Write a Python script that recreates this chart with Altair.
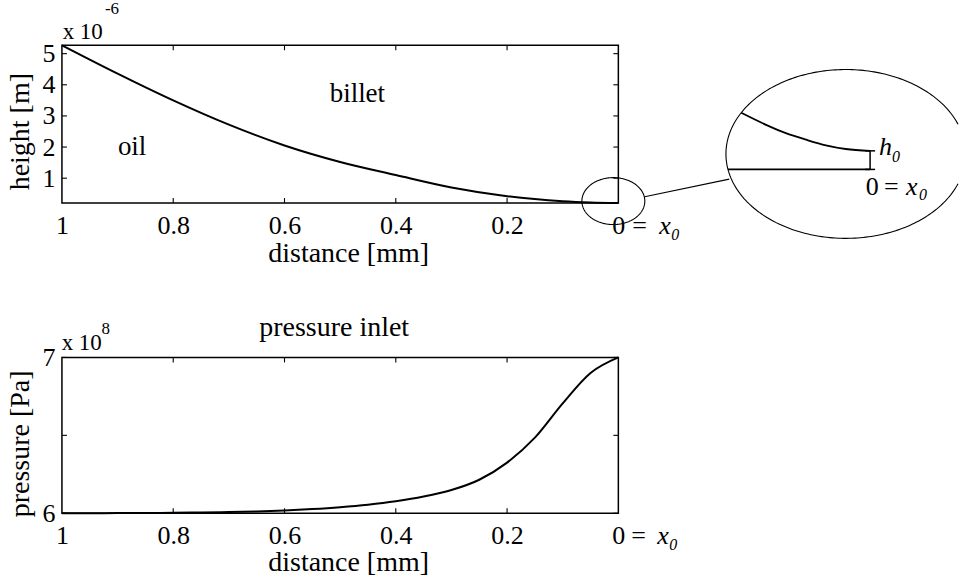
import altair as alt
import numpy as np
import pandas as pd

# oil film height along the inlet zone (x 1e-6 m)
dist_h = [1.0, 0.9, 0.8, 0.7, 0.6, 0.5, 0.4, 0.3, 0.2, 0.1, 0.05, 0.0]
height = [5.27, 4.36, 3.50, 2.72, 2.05, 1.52, 1.10, 0.70, 0.42, 0.26, 0.22, 0.20]

# pressure build-up in the inlet (x 1e8 Pa)
dist_p = [1.0, 0.95, 0.9, 0.85, 0.8, 0.75, 0.7, 0.65, 0.6, 0.55, 0.5, 0.45, 0.4, 0.35, 0.3, 0.25, 0.2,
          0.15, 0.1, 0.05, 0.0]
pressure = [6.0, 6.0005, 6.001, 6.002, 6.003, 6.005, 6.008, 6.012, 6.018, 6.027, 6.039, 6.055, 6.077,
            6.107, 6.149, 6.215, 6.325, 6.485, 6.705, 6.90, 7.0]

# magnified film profile close to the outlet
zoom_d = [0.28, 0.226, 0.183, 0.139, 0.096, 0.053, 0.0]
zoom_h = [0.61, 0.48, 0.39, 0.32, 0.26, 0.22, 0.20]
h0 = 0.20

x_ticks = [0.0, 0.2, 0.4, 0.6, 0.8, 1.0]
h_ticks = [1, 2, 3, 4, 5]
p_ticks = [6.0, 6.5, 7.0]

FONT = "Liberation Serif"
W, H1, H2 = 557, 158, 156
TICK = 5

df_h = pd.DataFrame({"d": dist_h, "v": height})
df_p = pd.DataFrame({"d": dist_p, "v": pressure})
df_zoom = pd.DataFrame({"d": zoom_d, "v": zoom_h})


def dist_scale():
    return alt.Scale(domain=[0, 1], reverse=True, zero=False, nice=False)


def px_x(field="px"):
    return alt.X(f"{field}:Q", scale=alt.Scale(domain=[0, W], range=[0, W], zero=False, nice=False), axis=None)


def px_y(field, size):
    return alt.Y(f"{field}:Q", scale=alt.Scale(domain=[0, size], range=[0, size], zero=False, nice=False), axis=None)


def x_axis(title_y):
    return alt.Axis(values=x_ticks, format="~g", ticks=False, tickSize=0, domain=False, grid=False,
                    labelPadding=30, labelBaseline="alphabetic", labelFlush=False, labelOverlap=False,
                    title="distance [mm]", titleX=W / 2 + 8, titleY=title_y, titleBaseline="alphabetic")


def inner_ticks(values, yscale, size):
    """Matlab-style inward ticks on all four sides of the box."""
    tx = pd.DataFrame({"d": [t for t in x_ticks if 0 < t < 1]})
    ty = pd.DataFrame({"v": values})
    xs = alt.X("d:Q", scale=dist_scale(), axis=None)
    ys = alt.Y("v:Q", scale=yscale, axis=None)
    base = dict(color="black", strokeWidth=1.1)
    return [
        alt.Chart(tx).mark_rule(**base).encode(x=xs, y=alt.value(0), y2=alt.value(TICK)),
        alt.Chart(tx).mark_rule(**base).encode(x=xs, y=alt.value(size - TICK), y2=alt.value(size)),
        alt.Chart(ty).mark_rule(**base).encode(y=ys, x=alt.value(0), x2=alt.value(TICK)),
        alt.Chart(ty).mark_rule(**base).encode(y=ys, x=alt.value(W - TICK), x2=alt.value(W)),
    ]


def text_layers(items, size):
    layers = []
    for style in ("normal", "italic"):
        rows = [r for r in items if r[4] == style]
        if not rows:
            continue
        df = pd.DataFrame(rows, columns=["px", "py", "label", "fs", "style", "align"])
        for align in df["align"].unique():
            sub = df[df["align"] == align]
            layers.append(
                alt.Chart(sub).mark_text(font=FONT, fontStyle=style, align=align, baseline="alphabetic",
                                         color="black")
                .encode(x=px_x(), y=px_y("py", size), text="label:N", size=alt.Size("fs:Q", scale=None))
            )
    return layers


def ellipse(cx, cy, rx, ry, xmax=None):
    t0 = 0.0
    if xmax is not None and cx + rx > xmax:
        t0 = float(np.arccos((xmax - cx) / rx))
    t = np.linspace(t0, 2 * np.pi - t0, 241)
    return pd.DataFrame({"px": cx + rx * np.cos(t), "py": cy - ry * np.sin(t), "k": np.arange(len(t))})


# ---------------- top panel: film height ----------------
h_scale = alt.Scale(domain=[0.2, 5.27], zero=False, nice=False)

height_line = alt.Chart(df_h).mark_line(color="black", strokeWidth=2, interpolate="monotone").encode(
    x=alt.X("d:Q", scale=dist_scale(), axis=x_axis(58.5)),
    y=alt.Y("v:Q", scale=h_scale,
            axis=alt.Axis(values=h_ticks, ticks=False, tickSize=0, domain=False, grid=False, labelPadding=7,
                          labelFlush=False, labelOverlap=False, title="height [m]", titleX=-33, titleY=86,
                          titleBaseline="alphabetic")),
)

# zoom window: small ellipse at the outlet, large one to the right
small_c = (552, 156, 31.5, 23.5)
big_c = (784.7, 108.8, 120, 84.5)
small_e = ellipse(*small_c)
big_e = ellipse(*big_c, xmax=897)
ell_style = dict(color="black", strokeWidth=1.1, clip=False)
small_ell = alt.Chart(small_e).mark_line(**ell_style).encode(x=px_x(), y=px_y("py", H1), order="k:Q")
big_ell = alt.Chart(big_e).mark_line(**ell_style).encode(x=px_x(), y=px_y("py", H1), order="k:Q")

link = pd.DataFrame({"px": [583.3, 668.0], "py": [151.7, 134.0]})
link_line = alt.Chart(link).mark_line(color="black", strokeWidth=1.1, clip=False).encode(
    x=px_x(), y=px_y("py", H1))

# magnified view inside the large ellipse
zx0, zx1 = 809, 680          # pixel span of zoom_d 0 .. 0.28
zy0, zy1 = 124.3, 105.7      # pixel rows of height 0 and h0
zoom_x_scale = alt.Scale(domain=[0, 0.28], range=[zx0, zx1], zero=False, nice=False)
zoom_y_scale = alt.Scale(domain=[0, h0], range=[zy0, zy1], zero=False, nice=False)

# where the zero line meets the large ellipse
cx, cy, rx, ry = big_c
x_hit = cx - rx * np.sqrt(1 - ((zy0 - cy) / ry) ** 2)
d_hit = (zx0 - x_hit) / (zx0 - zx1) * 0.28

zoom_curve = alt.Chart(df_zoom).mark_line(color="black", strokeWidth=1.8, interpolate="monotone",
                                          clip=False).encode(
    x=alt.X("d:Q", scale=zoom_x_scale, axis=None),
    y=alt.Y("v:Q", scale=zoom_y_scale, axis=None),
)
zoom_base = alt.Chart(pd.DataFrame({"d": [d_hit], "d2": [0.0], "v": [0.0]})).mark_rule(
    color="black", strokeWidth=1.8, clip=False).encode(
    x=alt.X("d:Q", scale=zoom_x_scale, axis=None), x2="d2:Q",
    y=alt.Y("v:Q", scale=zoom_y_scale, axis=None),
)
zoom_bar = alt.Chart(pd.DataFrame({"d": [0.0], "v": [0.0], "v2": [h0]})).mark_rule(
    color="black", strokeWidth=1.5, clip=False).encode(
    x=alt.X("d:Q", scale=zoom_x_scale, axis=None),
    y=alt.Y("v:Q", scale=zoom_y_scale, axis=None), y2="v2:Q",
)
zoom_caps = alt.Chart(pd.DataFrame({"d": [0.0, 0.0], "v": [0.0, h0]})).mark_point(
    shape="M -1 0 L 1 0", size=100, color="black", strokeWidth=1.5, opacity=1, clip=False).encode(
    x=alt.X("d:Q", scale=zoom_x_scale, axis=None),
    y=alt.Y("v:Q", scale=zoom_y_scale, axis=None),
)

top_text = [
    (56, 110, "oil", 27, "normal", "left"),
    (268, 56.7, "billet", 27, "normal", "left"),
    (0.7, -6.7, "x 10", 23, "normal", "left"),
    (43, -31.7, "-6", 17, "normal", "left"),
    (571, 189, "=", 26, "normal", "left"),
    (598, 189, "x", 26, "italic", "left"),
    (610, 195, "0", 16, "italic", "left"),
    (818, 110, "h", 26, "italic", "left"),
    (831, 116.7, "0", 16, "italic", "left"),
    (804.7, 150, "0", 26, "normal", "left"),
    (823, 150, "=", 26, "normal", "left"),
    (845, 150, "x", 26, "italic", "left"),
    (858, 155, "0", 16, "italic", "left"),
]

top = alt.layer(
    height_line, *inner_ticks(h_ticks, h_scale, H1),
    small_ell, big_ell, link_line,
    zoom_base, zoom_curve, zoom_bar, zoom_caps,
    *text_layers(top_text, H1),
).resolve_scale(x="independent", y="independent").properties(width=W, height=H1)

# ---------------- bottom panel: pressure ----------------
p_scale = alt.Scale(domain=[6, 7], zero=False, nice=False)

pressure_line = alt.Chart(df_p).mark_line(color="black", strokeWidth=2, interpolate="monotone").encode(
    x=alt.X("d:Q", scale=dist_scale(), axis=x_axis(57.5)),
    y=alt.Y("v:Q", scale=p_scale,
            axis=alt.Axis(values=p_ticks, ticks=False, tickSize=0, domain=False, grid=False, labelPadding=7,
                          labelFlush=False, labelOverlap=False,
                          labelExpr="datum.value == 6.5 ? '' : format(datum.value, '~g')",
                          title="pressure [Pa]", titleX=-33, titleY=86, titleBaseline="alphabetic")),
)

bottom_text = [
    (272.5, -21.7, "pressure inlet", 28, "normal", "center"),
    (-0.3, -7.7, "x 10", 23, "normal", "left"),
    (39.7, -23.7, "8", 17, "normal", "left"),
    (570, 186.3, "=", 26, "normal", "left"),
    (596, 186.3, "x", 26, "italic", "left"),
    (608, 192.3, "0", 16, "italic", "left"),
]

bottom = alt.layer(
    pressure_line, *inner_ticks(p_ticks, p_scale, H2),
    *text_layers(bottom_text, H2),
).resolve_scale(x="independent", y="independent").properties(width=W, height=H2)

chart = alt.vconcat(top, bottom, spacing=43.5).properties(
    padding={"left": 6, "top": -2, "right": 0, "bottom": 0},
    background="white",
).configure_view(stroke="black", strokeWidth=1.5).configure_axis(
    labelFont=FONT, labelFontSize=26, labelColor="black",
    titleFont=FONT, titleFontSize=28, titleFontWeight="normal", titleColor="black",
).configure_text(font=FONT)

chart.save("out.html", embed_options={"renderer": "svg", "actions": False})
